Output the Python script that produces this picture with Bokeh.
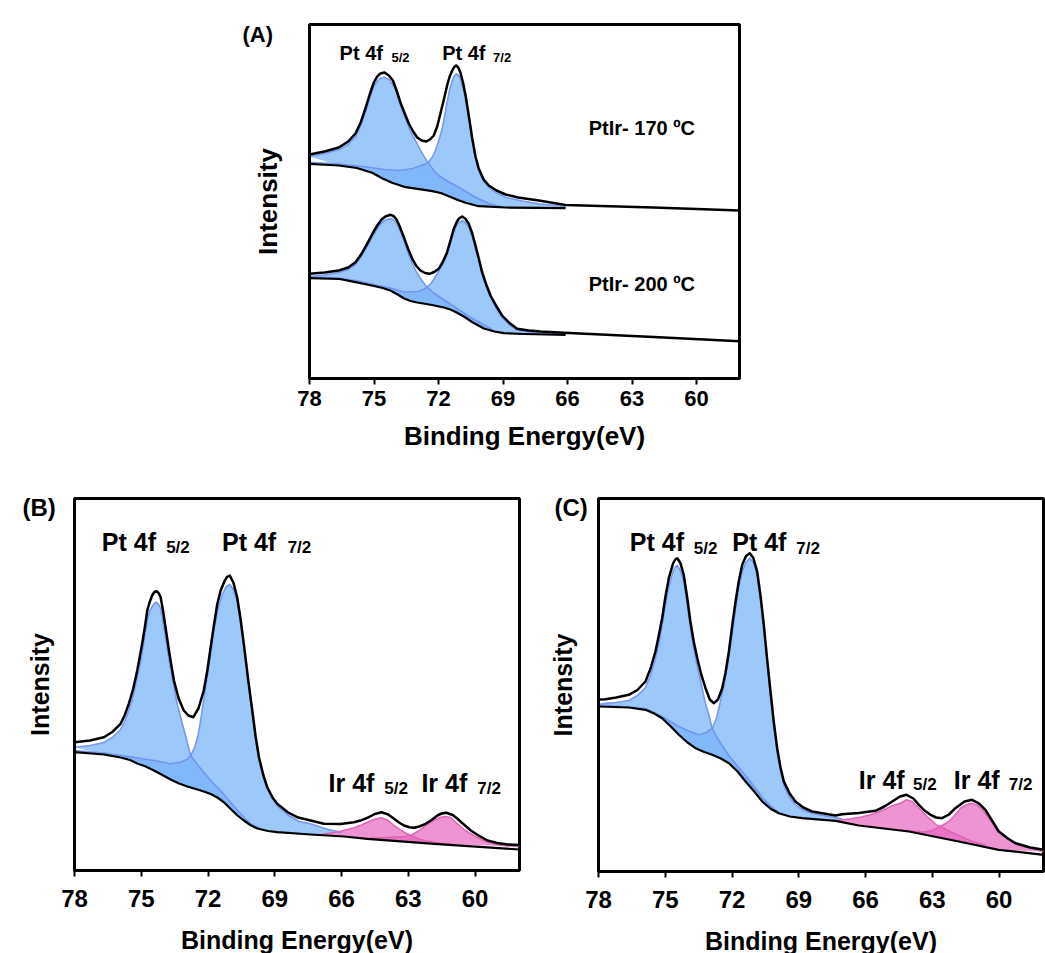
from bokeh.plotting import figure
from bokeh.models import Range1d, FixedTicker, Label, Spacer, Title
from bokeh.layouts import row, column
from bokeh.embed import file_html
from bokeh.resources import INLINE

# ---------------- data: binding energy (eV) / intensity (a.u.) ----------------
x_ticks = [78, 75, 72, 69, 66, 63, 60]

# Panel A, PtIr-170 C
A1_env_x = [78.0, 77.3, 76.64, 76.2, 75.86, 75.62, 75.40, 75.2, 75.01, 74.85, 74.70, 74.51, 74.31, 74.12, 73.95, 73.77, 73.57, 73.38, 73.18, 72.99, 72.78, 72.57, 72.4, 72.22, 72.06, 71.91, 71.75, 71.60, 71.48, 71.36, 71.27, 71.18, 71.08, 70.98, 70.86, 70.74, 70.6, 70.43, 70.28, 70.13, 69.9, 69.66, 69.3, 68.88, 68.3, 67.33, 66.09, 62.0, 58.0]
A1_env_y = [224, 227, 231, 237, 245, 256, 270, 284, 296, 302, 305, 306, 303, 298, 288, 276, 265, 255, 247, 241, 238, 237, 239, 243, 252, 265, 279, 293, 302, 308, 311.5, 313, 311, 306, 296, 283, 264, 240, 222, 210, 199, 193, 188, 184, 181, 178, 173.5, 171, 168]
A1_bg_x = [78.0, 76.64, 75.8, 75.09, 74.6, 74.16, 73.53, 72.9, 72.29, 71.9, 71.52, 71.1, 70.74, 70.13, 68.88, 66.09]
A1_bg_y = [214.7, 213, 210.5, 205.7, 200, 195.7, 191.3, 189.3, 187.3, 185.5, 182.3, 178.5, 175.7, 172.3, 171, 170.3]
A1_c1_x = [78.0, 77.3, 76.64, 76.2, 75.86, 75.62, 75.40, 75.2, 75.01, 74.85, 74.7, 74.51, 74.31, 74.15, 74.0, 73.77, 73.53, 73.3, 73.07, 72.78, 72.48, 72.22, 71.99, 71.6, 71.21, 70.8, 70.43, 70.0, 69.66, 69.3, 69.0]
A1_c1_y = [222, 225, 229, 234, 242, 253, 266, 280, 292, 297.5, 300.5, 301.3, 299, 294.5, 289.7, 273, 259.7, 247, 238, 226, 215.7, 208, 203, 197.5, 193, 188, 183, 178.5, 175, 173, 171.5]
A1_c2_x = [78.0, 76.64, 75.5, 74.5, 73.8, 73.2, 72.85, 72.48, 72.3, 72.14, 71.99, 71.83, 71.72, 71.60, 71.48, 71.36, 71.27, 71.18, 71.08, 70.98, 70.86, 70.74, 70.6, 70.43, 70.28, 70.13, 69.9, 69.66, 69.3, 68.88, 68.1, 67.33, 66.09]
A1_c2_y = [216.3, 214.5, 212, 209, 208, 210, 212.5, 215.7, 221, 228, 238, 249.7, 262, 276.3, 289, 298, 302.5, 304.7, 303.5, 299.7, 291, 279.7, 261, 238, 221, 208, 197, 191.3, 185.5, 181.3, 177.5, 174.7, 172]

# Panel A, PtIr-200 C
A2_env_x = [78.0, 77.3, 76.64, 76.2, 75.86, 75.6, 75.32, 75.08, 74.85, 74.65, 74.47, 74.23, 74.1, 73.97, 73.8, 73.61, 73.42, 73.22, 73.03, 72.84, 72.63, 72.42, 72.2, 71.99, 71.8, 71.60, 71.45, 71.29, 71.15, 71.05, 70.90, 70.75, 70.59, 70.43, 70.28, 70.12, 69.97, 69.78, 69.58, 69.3, 69.04, 68.7, 68.34, 67.8, 67.26, 66.17, 62.0, 58.0]
A2_env_y = [104.7, 106, 108, 111, 116.3, 124, 134.7, 144.5, 153, 159, 162, 163.7, 162.5, 159.7, 152, 141.3, 130, 119.7, 112.5, 108, 105.5, 104.7, 106.5, 109.7, 116.5, 126.3, 137.5, 149.7, 156.5, 160, 162, 159.8, 154.7, 145, 133, 119.5, 106.3, 94, 83, 72, 63, 55.5, 49.7, 48, 47, 45.7, 41.5, 37.3]
A2_bg_x = [78.0, 76.6, 75.86, 75.0, 74.6, 74.24, 73.9, 73.6, 73.3, 72.99, 72.3, 71.75, 71.45, 71.2, 70.82, 70.4, 70.1, 69.89, 69.4, 68.96, 68.0, 67.0, 66.09]
A2_bg_y = [100.3, 99.5, 96.3, 92.5, 90.5, 88, 84, 80, 77.5, 76, 73.5, 71, 69, 66.5, 62, 56, 52.5, 50, 47, 45.3, 44.5, 44, 43.7]
A2_c1_x = [78.0, 77.3, 76.64, 76.2, 75.86, 75.6, 75.32, 75.08, 74.85, 74.65, 74.47, 74.23, 74.1, 73.97, 73.8, 73.61, 73.42, 73.22, 73.03, 72.84, 72.53, 72.25, 71.99, 71.5, 71.0, 70.5, 70.0, 69.5]
A2_c1_y = [102, 103.5, 106, 109, 114, 122, 132, 141.5, 150, 155.5, 158.5, 160, 158.8, 156, 148.5, 138, 126, 115, 107, 100, 91.3, 86, 82, 75, 68, 61, 55, 49]
A2_c2_x = [78.0, 76.64, 75.86, 75.0, 74.24, 73.6, 72.99, 72.75, 72.53, 72.35, 72.2, 71.99, 71.8, 71.6, 71.45, 71.29, 71.15, 71.05, 70.90, 70.75, 70.59, 70.43, 70.28, 70.12, 69.97, 69.78, 69.58, 69.3, 69.04, 68.7, 68.34, 67.8, 67.26, 66.09]
A2_c2_y = [101.5, 100.5, 98, 94, 90.5, 86.5, 87, 88.5, 91.3, 95, 100, 107.5, 114.5, 124, 135, 147, 153.5, 155.5, 158, 156, 151, 142, 130, 117, 104, 92, 81, 70, 61, 54, 48.5, 46.5, 45.5, 44.3]

# Panel B
B_env_x = [78.0, 77.3, 76.68, 76.3, 75.93, 75.75, 75.56, 75.37, 75.18, 74.96, 74.84, 74.73, 74.62, 74.51, 74.41, 74.31, 74.22, 74.13, 74.03, 73.91, 73.72, 73.53, 73.32, 73.09, 72.88, 72.66, 72.43, 72.19, 72.03, 71.88, 71.73, 71.58, 71.43, 71.28, 71.15, 71.02, 70.86, 70.69, 70.54, 70.39, 70.2, 70.01, 69.86, 69.71, 69.52, 69.34, 69.1, 68.89, 68.4, 67.99, 66.79, 66.04, 65.44, 65.1, 64.84, 64.5, 64.2, 63.9, 63.64, 63.4, 63.19, 62.95, 62.74, 62.5, 62.22, 61.95, 61.69, 61.5, 61.29, 61.0, 60.79, 60.5, 60.19, 59.8, 59.44, 59.0, 58.54, 58.0]
B_env_y = [128.3, 130, 133.3, 138.5, 146.7, 155, 166.7, 181, 200, 226.7, 243, 260, 268.5, 275, 278.5, 279.3, 277.5, 273.3, 261, 243.3, 215, 190, 172, 160, 155, 153.3, 162, 180, 200, 223.3, 246, 266.7, 280, 288.3, 293.5, 295, 288, 273.3, 252, 226.7, 192, 160, 134, 113.3, 96, 83.3, 73, 66.7, 58, 53.3, 46.7, 46.5, 48.3, 50.3, 52.7, 56.5, 58.3, 56, 51.7, 47.8, 45, 43.2, 42.7, 44, 46.7, 50.5, 55, 57, 57.7, 55.5, 51.7, 46, 40, 34.5, 30, 27.5, 26, 25.5]
B_bg_x = [78.0, 76.68, 75.93, 75.5, 75.18, 74.8, 74.43, 74.05, 73.68, 73.3, 72.93, 72.55, 72.19, 71.88, 71.58, 71.3, 71.0, 70.7, 70.39, 70.1, 69.79, 69.3, 68.89, 67.39, 65.89, 64.84, 61.84, 58.0]
B_bg_y = [118.3, 116, 113, 110.5, 107, 104, 100, 95.5, 91, 87, 84, 81.5, 79, 76.5, 73, 68.5, 62, 55.5, 50, 45.5, 42, 39.5, 38.3, 36, 34, 31.7, 26.7, 21]
B_c1_x = [78.0, 77.3, 76.68, 76.3, 75.93, 75.75, 75.56, 75.37, 75.18, 74.96, 74.84, 74.73, 74.62, 74.51, 74.41, 74.31, 74.22, 74.13, 74.03, 73.91, 73.72, 73.53, 73.38, 73.23, 72.99, 72.78, 72.55, 72.33, 71.88, 71.4, 70.99, 70.5, 70.09, 69.6]
B_c1_y = [123.3, 125, 128, 133, 141, 149, 160, 174, 193, 218, 235, 250, 259.5, 264, 267, 268.3, 266, 262, 250, 233, 207, 183, 166, 153.3, 133.3, 115, 108, 102, 90, 79, 68.3, 56, 46.7, 41.5]
B_c2_x = [78.0, 76.68, 75.93, 75.0, 74.43, 73.68, 73.2, 72.95, 72.78, 72.6, 72.45, 72.33, 72.18, 72.03, 71.88, 71.74, 71.55, 71.36, 71.18, 71.02, 70.86, 70.69, 70.54, 70.39, 70.2, 70.01, 69.86, 69.64, 69.45, 69.18, 68.85, 68.44, 67.9, 67.39, 66.6, 66.0]
B_c2_y = [120, 117.5, 115, 112, 110, 106.7, 108.5, 111, 115, 123, 135, 150, 173, 194, 217, 240, 262, 276, 284, 286, 281, 270, 249, 223.3, 190, 158, 131, 104, 89, 75, 64, 56, 49, 46.7, 41, 38]
B_ir1_x = [67.0, 66.5, 66.04, 65.44, 65.1, 64.84, 64.5, 64.2, 63.9, 63.64, 63.4, 63.19, 62.89, 62.6, 62.29, 61.9, 61.54, 61.0]
B_ir1_y = [35.8, 37.5, 39.3, 42.7, 45.5, 48.3, 51.5, 52.7, 50, 45, 41.3, 38.3, 35, 32.3, 30, 28.5, 27.3, 26]
B_ir2_x = [64.84, 64.2, 63.64, 63.19, 62.89, 62.7, 62.5, 62.22, 61.95, 61.69, 61.5, 61.29, 61.1, 60.99, 60.79, 60.49, 60.19, 59.8, 59.44, 59.0, 58.54, 58.0]
B_ir2_y = [32.3, 32.8, 33.5, 34, 35, 37.5, 40, 45, 48.8, 51.7, 53.5, 54, 53, 51, 46.7, 41, 36.7, 32, 28.3, 25.8, 24.5, 24]

# Panel C
C_env_x = [78.0, 77.69, 77.2, 76.64, 76.25, 75.89, 75.66, 75.44, 75.29, 75.14, 74.99, 74.84, 74.65, 74.55, 74.46, 74.32, 74.17, 74.02, 73.87, 73.72, 73.56, 73.37, 73.19, 73.0, 72.82, 72.63, 72.44, 72.29, 72.14, 71.99, 71.84, 71.69, 71.54, 71.37, 71.2, 71.04, 70.87, 70.72, 70.57, 70.42, 70.27, 70.12, 69.97, 69.82, 69.67, 69.41, 69.15, 68.8, 68.40, 67.35, 67.05, 66.3, 65.55, 65.15, 64.80, 64.45, 64.16, 63.85, 63.60, 63.35, 63.08, 62.82, 62.56, 62.25, 61.96, 61.55, 61.21, 60.9, 60.61, 60.3, 60.01, 59.6, 59.26, 58.6, 57.99]
C_env_y = [172, 172.3, 174, 176.7, 181.5, 190, 203, 220, 236, 253.3, 275, 293.3, 308, 312, 313.3, 308.5, 296.7, 275, 250, 230, 213.3, 196, 183.3, 172, 168.3, 172, 183.3, 199, 220, 246, 270, 291, 306.7, 315.5, 318.3, 313.5, 300, 276, 246.7, 212, 180, 149, 123.3, 104, 90, 78, 70, 64, 60, 56, 57.3, 58.5, 60.7, 65, 70, 75, 76.7, 73, 66.7, 61, 56.7, 54, 53.3, 57, 63.3, 70, 71.7, 68, 61.7, 50.5, 40, 33, 28.3, 24, 21.7]
C_bg_x = [78.0, 76.64, 75.89, 75.5, 75.14, 74.75, 74.39, 74.0, 73.64, 73.25, 72.89, 72.5, 72.14, 71.75, 71.39, 71.0, 70.64, 70.25, 69.90, 69.4, 68.85, 67.35, 66.30, 64.05, 61.81, 60.01, 57.99]
C_bg_y = [165, 164, 161.7, 158, 153.3, 145, 136.7, 129, 123.3, 119.5, 116.7, 113, 108.3, 100, 90, 80, 70, 62.5, 58.3, 55, 53.3, 50.7, 46, 40, 30, 21.7, 16.7]
C_c1_x = [78.0, 77.69, 77.2, 76.64, 76.25, 75.89, 75.66, 75.44, 75.29, 75.14, 74.99, 74.84, 74.65, 74.55, 74.46, 74.32, 74.17, 74.02, 73.87, 73.72, 73.56, 73.37, 73.19, 73.04, 72.89, 72.7, 72.5, 72.14, 71.7, 71.39, 70.9, 70.64, 70.2, 69.9]
C_c1_y = [167, 168.3, 169, 171, 176, 184, 196, 213, 228, 246, 267, 285, 300, 304.5, 306, 301, 290, 268, 243, 223, 205, 186, 168, 156.7, 143.3, 135, 128, 116, 104, 96, 82, 74, 64, 59.5]
C_c2_x = [78.0, 76.64, 75.89, 75.14, 74.39, 73.9, 73.49, 73.15, 72.89, 72.7, 72.52, 72.37, 72.22, 72.03, 71.84, 71.69, 71.54, 71.37, 71.2, 71.04, 70.87, 70.72, 70.57, 70.42, 70.27, 70.12, 69.97, 69.82, 69.67, 69.41, 69.15, 68.8, 68.40, 67.9, 67.35, 67.05]
C_c2_y = [166.7, 164.5, 163, 155, 145, 140, 136.7, 139, 143.3, 153, 170, 186, 203, 232, 263, 285, 300, 309.5, 313.3, 309, 296.7, 273, 243.3, 210, 176.7, 146, 120, 101, 86.7, 74, 66.7, 61.5, 58.3, 56, 54, 52.5]
C_ir1_x = [67.4, 66.67, 66.2, 65.78, 65.4, 65.03, 64.7, 64.43, 64.16, 63.9, 63.68, 63.45, 63.23, 63.0, 62.78, 62.63, 62.25, 61.88, 61.55, 61.28, 60.9, 60.6]
C_ir1_y = [50.8, 52.7, 54.5, 56.7, 59.8, 63.3, 66.5, 68.3, 71.7, 70, 65, 60, 55, 50.5, 46, 45, 40.5, 36.7, 33.5, 30.7, 28, 26.5]
C_ir2_x = [64.43, 63.38, 63.0, 62.63, 62.4, 62.18, 61.95, 61.73, 61.45, 61.21, 60.95, 60.68, 60.5, 60.3, 60.08, 59.7, 59.33, 58.95, 58.58, 57.99]
C_ir2_y = [41.5, 39.5, 41, 45, 48, 51.7, 57, 63.3, 67, 68.3, 66, 60, 55, 49, 41, 34.5, 29, 25.5, 23.3, 20]

# ---------------- styling ----------------
FONT = "Liberation Sans"
BLUE_FILL, BLUE_LINE = "#74b0f8", "#6f8ff0"
PINK_FILL, PINK_LINE = "#e866c0", "#dc5fb4"


def make_fig(frame_w, frame_h, bl, br, bt, bb, tick_fs, lab_fs, tick_standoff, ylab_standoff, xlab_standoff):
    p = figure(x_range=Range1d(78, 58), y_range=Range1d(0, frame_h),
               frame_width=frame_w, frame_height=frame_h,
               min_border_left=bl, min_border_right=br, min_border_top=bt, min_border_bottom=bb,
               output_backend="svg", toolbar_location=None,
               background_fill_color="white", border_fill_color="white")
    p.grid.visible = False
    p.outline_line_color = "black"
    p.outline_line_width = 3
    xa = p.xaxis[0]
    xa.ticker = FixedTicker(ticks=x_ticks)
    xa.axis_label = "Binding Energy(eV)"
    xa.axis_label_text_font = FONT
    xa.axis_label_text_font_style = "bold"
    xa.axis_label_text_font_size = f"{lab_fs}px"
    xa.axis_label_text_color = "black"
    xa.axis_label_standoff = xlab_standoff
    xa.major_label_text_font = FONT
    xa.major_label_text_font_style = "bold"
    xa.major_label_text_font_size = f"{tick_fs}px"
    xa.major_label_text_color = "black"
    xa.major_label_standoff = tick_standoff
    xa.major_tick_out = 6
    xa.major_tick_in = 0
    xa.major_tick_line_width = 2
    xa.major_tick_line_color = "black"
    xa.minor_tick_line_color = None
    xa.axis_line_width = 3
    xa.axis_line_color = "black"
    ya = p.yaxis[0]
    ya.ticker = FixedTicker(ticks=[])
    ya.major_tick_out = 0
    ya.major_tick_in = 0
    ya.minor_tick_line_color = None
    ya.axis_label = "Intensity"
    ya.axis_label_text_font = FONT
    ya.axis_label_text_font_style = "bold"
    ya.axis_label_text_font_size = f"{lab_fs}px"
    ya.axis_label_text_color = "black"
    ya.axis_label_standoff = ylab_standoff
    ya.axis_line_width = 3
    ya.axis_line_color = "black"
    return p


def panel_letter(p, text, offset, size):
    try:
        t = Title(text=text, align="left", offset=offset, standoff=-44, vertical_align="bottom",
                  text_font=FONT, text_font_style="bold", text_font_size=f"{size}px", text_color="black")
    except Exception:
        t = Title(text=text, align="left", offset=offset, standoff=0,
                  text_font=FONT, text_font_style="bold", text_font_size=f"{size}px", text_color="black")
    p.add_layout(t, "above")


def fill_comp(p, cx, cy, bx, by, color, alpha=0.7):
    lo, hi = min(cx), max(cx)
    seg = sorted([(x, y) for x, y in zip(bx, by) if lo < x < hi])
    xs = list(cx) + [t[0] for t in seg]
    ys = list(cy) + [t[1] for t in seg]
    p.patch(xs, ys, fill_color=color, fill_alpha=alpha, line_color=None)


def txt(p, x, y, s, size):
    p.add_layout(Label(x=x, y=y, text=s, text_font=FONT, text_font_style="bold",
                       text_font_size=f"{size}px", text_color="black",
                       text_align="left", text_baseline="alphabetic"))


def spectrum(p, env, bg, comps):
    for cx, cy, fc, lc in comps:
        fill_comp(p, cx, cy, bg[0], bg[1], fc)
    for cx, cy, fc, lc in comps:
        p.line(cx, cy, line_color=lc, line_width=1.6, line_alpha=0.9, line_join="round")
    p.line(bg[0], bg[1], line_color="black", line_width=2.2, line_join="round")
    p.line(env[0], env[1], line_color="black", line_width=2.5, line_join="round")


# ---------------- Panel A ----------------
pA = make_fig(430, 354, 76, 20, 24, 102, 22, 26, 6, 27, 12)
spectrum(pA, (A1_env_x, A1_env_y), (A1_bg_x, A1_bg_y),
         [(A1_c1_x, A1_c1_y, BLUE_FILL, BLUE_LINE), (A1_c2_x, A1_c2_y, BLUE_FILL, BLUE_LINE)])
spectrum(pA, (A2_env_x, A2_env_y), (A2_bg_x, A2_bg_y),
         [(A2_c1_x, A2_c1_y, BLUE_FILL, BLUE_LINE), (A2_c2_x, A2_c2_y, BLUE_FILL, BLUE_LINE)])
panel_letter(pA, "(A)", -67, 22)
txt(pA, 76.60, 325.3, "Pt 4f", 20)
txt(pA, 74.19, 321.3, "5/2", 13)
txt(pA, 71.83, 325.3, "Pt 4f", 20)
txt(pA, 69.46, 321.3, "7/2", 13)
txt(pA, 65.01, 250.3, "PtIr- 170 \u00baC", 20)
txt(pA, 65.01, 94.7, "PtIr- 200 \u00baC", 20)

# ---------------- Panel B ----------------
pB = make_fig(445, 372, 74, 11, 18, 83, 24, 25, 13, 21, 16)
spectrum(pB, (B_env_x, B_env_y), (B_bg_x, B_bg_y),
         [(B_c1_x, B_c1_y, BLUE_FILL, BLUE_LINE), (B_c2_x, B_c2_y, BLUE_FILL, BLUE_LINE),
          (B_ir1_x, B_ir1_y, PINK_FILL, PINK_LINE), (B_ir2_x, B_ir2_y, PINK_FILL, PINK_LINE)])
panel_letter(pB, "(B)", -52, 24)
txt(pB, 76.77, 329, "Pt 4f", 25)
txt(pB, 73.88, 323, "5/2", 17)
txt(pB, 71.37, 329, "Pt 4f", 25)
txt(pB, 68.42, 323, "7/2", 17)
txt(pB, 66.58, 87.3, "Ir 4f", 25)
txt(pB, 64.08, 82.3, "5/2", 17)
txt(pB, 62.41, 87.3, "Ir 4f", 25)
txt(pB, 59.90, 82.3, "7/2", 17)

# ---------------- Panel C ----------------
pC = make_fig(445, 373, 68, 2, 17, 83, 24, 25, 13, 22, 16)
spectrum(pC, (C_env_x, C_env_y), (C_bg_x, C_bg_y),
         [(C_c1_x, C_c1_y, BLUE_FILL, BLUE_LINE), (C_c2_x, C_c2_y, BLUE_FILL, BLUE_LINE),
          (C_ir1_x, C_ir1_y, PINK_FILL, PINK_LINE), (C_ir2_x, C_ir2_y, PINK_FILL, PINK_LINE)])
panel_letter(pC, "(C)", -44, 24)
txt(pC, 76.59, 329.3, "Pt 4f", 25)
txt(pC, 73.72, 323.3, "5/2", 17)
txt(pC, 71.99, 329.3, "Pt 4f", 25)
txt(pC, 69.11, 323.3, "7/2", 17)
txt(pC, 66.30, 91.7, "Ir 4f", 25)
txt(pC, 63.86, 86.7, "5/2", 17)
txt(pC, 62.03, 91.7, "Ir 4f", 25)
txt(pC, 59.56, 86.7, "7/2", 17)

layout = column(row(Spacer(width=233, height=480), pA), row(pB, pC))
open("out.html", "w").write(file_html(layout, INLINE))
